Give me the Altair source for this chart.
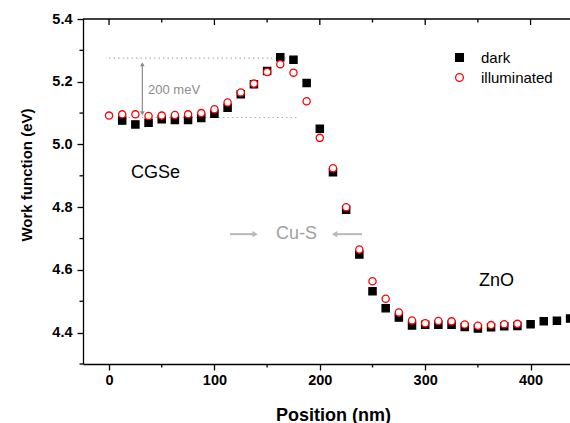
import altair as alt
import pandas as pd

FONT = "Liberation Sans"

# ---------------- data ----------------
pos_dark = [12.5, 25, 37.5, 50, 62.5, 75, 87.5, 100, 112.5, 125, 137.5, 150, 162.5, 175,
            187.5, 200, 212.5, 225, 237.5, 250, 262.5, 275, 287.5, 300, 312.5, 325, 337.5,
            350, 362.5, 375, 387.5, 400, 412.5, 425, 437.5]
wf_dark = [5.076, 5.064, 5.069, 5.080, 5.078, 5.078, 5.084, 5.098, 5.117, 5.160, 5.192,
           5.234, 5.278, 5.270, 5.196, 5.050, 4.911, 4.792, 4.649, 4.532, 4.478, 4.448,
           4.423, 4.425, 4.425, 4.425, 4.418, 4.413, 4.417, 4.420, 4.421, 4.427, 4.436,
           4.438, 4.445]
pos_ill = [0, 12.5, 25, 37.5, 50, 62.5, 75, 87.5, 100, 112.5, 125, 137.5, 150, 162.5, 175,
           187.5, 200, 212.5, 225, 237.5, 250, 262.5, 275, 287.5, 300, 312.5, 325, 337.5,
           350, 362.5, 375, 387.5]
wf_ill = [5.092, 5.096, 5.096, 5.091, 5.092, 5.094, 5.096, 5.100, 5.112, 5.134, 5.166,
          5.194, 5.231, 5.256, 5.229, 5.138, 5.021, 4.924, 4.800, 4.665, 4.564, 4.508,
          4.464, 4.439, 4.430, 4.437, 4.436, 4.426, 4.422, 4.424, 4.427, 4.428]

series_names = ["dark", "illuminated"]

x_ticks = [0, 100, 200, 300, 400]
x_minor = [50, 150, 250, 350]
y_ticks = [4.4, 4.6, 4.8, 5.0, 5.2, 5.4]
y_minor = [4.3, 4.5, 4.7, 4.9, 5.1, 5.3]

X_DOMAIN = [-24.7, 437.4]
Y_DOMAIN = [4.3, 5.4]

# annotation lines (200 meV guide)
guide_y = [5.275, 5.086]
guide_x1 = [0, 10]
guide_x2 = [178, 180]

# labels
region_text = ["CGSe", "ZnO"]
region_x = [20.9, 351]
region_y = [4.908, 4.564]

W, H = 487, 345

df = pd.DataFrame({
    "pos": pos_dark + pos_ill,
    "wf": wf_dark + wf_ill,
    "series": ["dark"] * len(pos_dark) + ["illuminated"] * len(pos_ill),
})

xs = alt.Scale(domain=X_DOMAIN, nice=False, zero=False)
ys = alt.Scale(domain=Y_DOMAIN, nice=False, zero=False)

base_axis = dict(grid=False, domainColor="black", domainWidth=1.3, tickColor="black",
                 tickWidth=1.3, tickSize=6, labelFont=FONT, labelFontSize=14.5,
                 labelFontWeight="bold", labelColor="black", titleFont=FONT,
                 titleFontWeight="bold", titleColor="black")

leg = dict(title=None, orient="none", legendX=369, legendY=31,
           labelFont=FONT, labelFontSize=15, labelColor="black",
           symbolSize=60, symbolStrokeWidth=1.3, rowPadding=4,
           labelOffset=14, padding=0)

points = alt.Chart(df).mark_point(size=52, strokeWidth=1.3, opacity=1).encode(
    x=alt.X("pos:Q", scale=xs,
            axis=alt.Axis(values=x_ticks, title="Position (nm)", titleFontSize=18,
                          labelPadding=3, titleX=250, titleY=56, titleAlign="center",
                          titleBaseline="alphabetic", **base_axis)),
    y=alt.Y("wf:Q", scale=ys,
            axis=alt.Axis(values=y_ticks, format=".1f", title="Work function (eV)",
                          titleFontSize=15, labelPadding=5, titleX=-52, titleY=155.5,
                          titleAngle=270, titleAlign="center", titleBaseline="alphabetic",
                          **base_axis)),
    shape=alt.Shape("series:N", scale=alt.Scale(domain=series_names, range=["square", "circle"]),
                    legend=alt.Legend(**leg)),
    fill=alt.Fill("series:N", scale=alt.Scale(domain=series_names, range=["black", "white"]),
                  legend=alt.Legend(**leg)),
    stroke=alt.Stroke("series:N", scale=alt.Scale(domain=series_names, range=["black", "red"]),
                      legend=alt.Legend(**leg)),
)

# dotted guide lines
guides = alt.Chart(pd.DataFrame({"y": guide_y, "x1": guide_x1, "x2": guide_x2})).mark_rule(
    color="#a8a8a8", strokeWidth=1.2, strokeDash=[1.3, 3.2]).encode(
    x=alt.X("x1:Q", scale=xs), x2="x2:Q", y=alt.Y("y:Q", scale=ys))

# vertical 200 meV arrow
varrow_x = [31.6]
vline = alt.Chart(pd.DataFrame({"x": varrow_x, "y1": [5.256], "y2": [5.099]})).mark_rule(
    color="#8c8c8c", strokeWidth=1.2).encode(
    x=alt.X("x:Q", scale=xs), y=alt.Y("y1:Q", scale=ys), y2="y2:Q")
vhead_up = alt.Chart(pd.DataFrame({"x": varrow_x, "y": [5.256]})).mark_point(
    shape="triangle-up", filled=True, color="#8c8c8c", size=22, opacity=1).encode(
    x=alt.X("x:Q", scale=xs), y=alt.Y("y:Q", scale=ys))
vhead_dn = alt.Chart(pd.DataFrame({"x": varrow_x, "y": [5.099]})).mark_point(
    shape="triangle-down", filled=True, color="#8c8c8c", size=22, opacity=1).encode(
    x=alt.X("x:Q", scale=xs), y=alt.Y("y:Q", scale=ys))
mev_text = alt.Chart(pd.DataFrame({"x": [37.0], "y": [5.174], "t": ["200 meV"]})).mark_text(
    align="left", baseline="middle", font=FONT, fontSize=13, color="#8c8c8c").encode(
    x=alt.X("x:Q", scale=xs), y=alt.Y("y:Q", scale=ys), text="t:N")

# Cu-S arrows
cus_y = 4.714
harrows = alt.Chart(pd.DataFrame({"x1": [114.8, 214.0], "x2": [138.4, 240.0],
                                  "y": [cus_y, cus_y]})).mark_rule(
    color="#b8b8b8", strokeWidth=2).encode(
    x=alt.X("x1:Q", scale=xs), x2="x2:Q", y=alt.Y("y:Q", scale=ys))
hhead_r = alt.Chart(pd.DataFrame({"x": [138.6], "y": [cus_y]})).mark_point(
    shape="triangle-right", filled=True, color="#b8b8b8", size=40, opacity=1).encode(
    x=alt.X("x:Q", scale=xs), y=alt.Y("y:Q", scale=ys))
hhead_l = alt.Chart(pd.DataFrame({"x": [214.0], "y": [cus_y]})).mark_point(
    shape="triangle-left", filled=True, color="#b8b8b8", size=40, opacity=1).encode(
    x=alt.X("x:Q", scale=xs), y=alt.Y("y:Q", scale=ys))
cus_text = alt.Chart(pd.DataFrame({"x": [177.9], "y": [4.716], "t": ["Cu-S"]})).mark_text(
    align="center", baseline="middle", font=FONT, fontSize=18, color="#a0a0a0").encode(
    x=alt.X("x:Q", scale=xs), y=alt.Y("y:Q", scale=ys), text="t:N")

regions = alt.Chart(pd.DataFrame({"x": region_x, "y": region_y, "t": region_text})).mark_text(
    align="left", baseline="middle", font=FONT, fontSize=18, color="black").encode(
    x=alt.X("x:Q", scale=xs), y=alt.Y("y:Q", scale=ys), text="t:N")

# minor ticks and top frame
xminor = alt.Chart(pd.DataFrame({"x": x_minor})).mark_rule(color="black", strokeWidth=1.3).encode(
    x=alt.X("x:Q", scale=xs), y=alt.value(H), y2=alt.value(H + 3.5))
yminor = alt.Chart(pd.DataFrame({"y": y_minor})).mark_rule(color="black", strokeWidth=1.3).encode(
    y=alt.Y("y:Q", scale=ys), x=alt.value(-3.5), x2=alt.value(0))
top_major = alt.Chart(pd.DataFrame({"x": x_ticks})).mark_rule(color="black", strokeWidth=1.3).encode(
    x=alt.X("x:Q", scale=xs), y=alt.value(0), y2=alt.value(6))
top_minor = alt.Chart(pd.DataFrame({"x": x_minor})).mark_rule(color="black", strokeWidth=1.3).encode(
    x=alt.X("x:Q", scale=xs), y=alt.value(0), y2=alt.value(3.5))
top_line = alt.Chart(pd.DataFrame({"x": [0]})).mark_rule(color="black", strokeWidth=1.3).encode(
    x=alt.value(0), x2=alt.value(W), y=alt.value(0))

chart = alt.layer(
    guides, vline, vhead_up, vhead_dn, mev_text, harrows, hhead_r, hhead_l, cus_text, regions,
    xminor, yminor, top_major, top_minor, top_line, points
).properties(
    width=W, height=H,
    autosize=alt.AutoSizeParams(type="none"),
    padding={"left": 83, "top": 19, "right": 0, "bottom": 59},
    background="white",
).configure_view(stroke=None)

chart.save("out.html", embed_options={"renderer": "svg", "actions": False})
